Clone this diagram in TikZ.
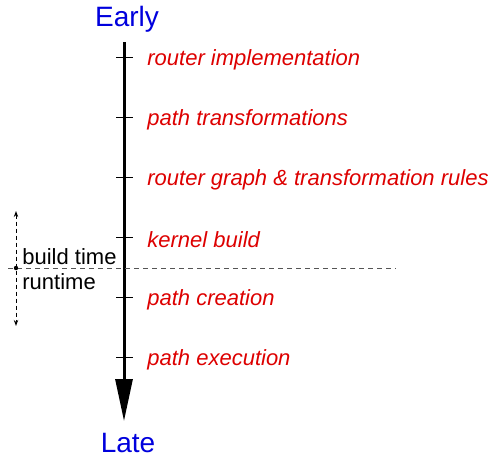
\documentclass[tikz,border=0pt]{standalone}
\usepackage{fontspec}
\setmainfont{Liberation Sans}
\usetikzlibrary{arrows.meta,positioning,calc}
\definecolor{endBlue}{HTML}{0000DD}
\definecolor{stageRed}{HTML}{DD0000}
\definecolor{splitGray}{HTML}{555555}
\tikzset{
  >=Stealth,
  % --- time axis ------------------------------------------------------------
  endlbl/.style    = {font=\fontsize{14}{16}\selectfont, text=endBlue,
                      inner sep=1pt},
  timeaxis/.style  = {draw=black, line width=1.5pt,
                      -{Triangle[length=21pt,width=8.5pt]}},
  tick/.style      = {draw=black, line width=0.5pt},
  stagelbl/.style  = {font=\fontsize{11}{13}\selectfont\itshape, text=stageRed,
                      anchor=west, inner sep=0pt},
  % --- build / run split -----------------------------------------------------
  split/.style     = {draw=splitGray, line width=0.5pt, dash pattern=on 2.5pt off 2pt},
  span/.style      = {draw=black, line width=0.5pt, dash pattern=on 2pt off 1.5pt,
                      {Stealth[length=3pt,width=2.2pt]}-{Stealth[length=3pt,width=2.2pt]}},
  sidelbl/.style   = {font=\fontsize{11}{13}\selectfont, anchor=west, inner sep=0pt},
}
\begin{document}
\begin{tikzpicture}[x=0.5pt, y=-0.5pt]
\useasboundingbox (0,0) rectangle (492,457);

% ------------------------------- ends --------------------------------------
\node[endlbl] (early) at (127,19)  {Early};
\node[endlbl] (late)  at (128,443) {Late};
\coordinate (top) at (124,42);
\coordinate (tip) at (124,421);

% ------------------------------- stages ------------------------------------
\foreach \y/\name/\txt in {57/impl/router implementation,
                           117/trans/path transformations,
                           177/rules/router graph \& transformation rules,
                           237/kbuild/kernel build,
                           297/create/path creation,
                           357/exec/path execution}{
  \coordinate (t-\name) at (124,\y);
  \draw[tick] ($(t-\name)+(-8,0)$) -- ($(t-\name)+(9,0)$);
  \node[stagelbl] (\name) at (147,\y+2.5) {\txt};
}

% ------------------------------- axis --------------------------------------
\draw[timeaxis] (top) -- (tip);

% --------------------------- build / runtime -------------------------------
\coordinate (cut)  at (16,268);
\coordinate (left) at (8,268);
\coordinate (right) at (396,268);
\coordinate (upper) at (16,211);
\coordinate (lower) at (16,326);
\draw[split] (left) -- (right);
\draw[span] (upper) -- (lower);
\fill (cut) circle (2.2);
\node[sidelbl] (build) at (22,257) {build time};
\node[sidelbl] (run)   at (22,282) {runtime};

\end{tikzpicture}
\end{document}
